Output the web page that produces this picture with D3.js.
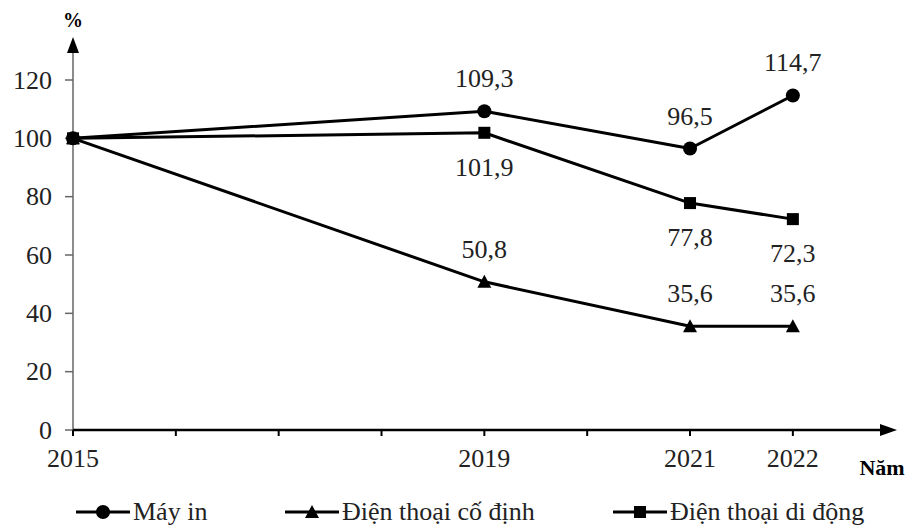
<!DOCTYPE html>
<html>
<head>
<meta charset="utf-8">
<script src="https://cdn.jsdelivr.net/npm/d3@7"></script>
</head>
<body style="margin:0">
<script>
// Data
const years = [2015, 2019, 2021, 2022];
const mayIn = [100, 109.3, 96.5, 114.7];
const coDinh = [100, 50.8, 35.6, 35.6];
const diDong = [100, 101.9, 77.8, 72.3];
const yTicks = [0, 20, 40, 60, 80, 100, 120];
const xTicks = [2015, 2016, 2017, 2018, 2019, 2020, 2021, 2022];
// label placement per point: -1 above, +1 below, 0 none
const mayInPos = [0, -1, -1, -1];
const coDinhPos = [0, -1, -1, -1];
const diDongPos = [0, 1, 1, 1];

const series = [
  { name: "Máy in", values: mayIn, pos: mayInPos, marker: "circle" },
  { name: "Điện thoại cố định", values: coDinh, pos: coDinhPos, marker: "triangle" },
  { name: "Điện thoại di động", values: diDong, pos: diDongPos, marker: "square" }
];

const FONT = "'Times New Roman'";
const FS = 26;
const svg = d3.select("body").append("svg").attr("width", 911).attr("height", 525);

function txt(sel) {
  return sel.append("text").attr("font-size", FS).style("font-family", FONT);
}

const x = d3.scaleLinear().domain([2015, 2023]).range([73, 895.7]);
const y = d3.scaleLinear().domain([0, 120]).range([430, 80]);

// Y axis
svg.append("line")
  .attr("x1", x(2015)).attr("x2", x(2015))
  .attr("y1", y(0)).attr("y2", 50)
  .attr("stroke", "#666").attr("stroke-width", 1.5);
svg.append("path")
  .attr("d", `M${x(2015) - 6},53 L${x(2015)},37 L${x(2015) + 6},53 Z`)
  .attr("fill", "#000");
txt(svg)
  .attr("x", x(2015)).attr("y", 27)
  .attr("text-anchor", "middle")
  .attr("font-weight", "bold")
  .attr("font-size", 20)
  .text("%");

yTicks.forEach(t => {
  svg.append("line")
    .attr("x1", x(2015) - 8).attr("x2", x(2015))
    .attr("y1", y(t)).attr("y2", y(t))
    .attr("stroke", "#666").attr("stroke-width", 1.5);
  txt(svg)
    .attr("x", 52).attr("y", y(t))
    .attr("dy", "0.33em")
    .attr("text-anchor", "end")
    .attr("fill", "#222")
    .text(t);
});

// X axis
svg.append("line")
  .attr("x1", x(2015)).attr("x2", 886)
  .attr("y1", y(0)).attr("y2", y(0))
  .attr("stroke", "#000").attr("stroke-width", 2.5);
svg.append("path")
  .attr("d", `M880,${y(0) - 6} L897,${y(0)} L880,${y(0) + 6} Z`)
  .attr("fill", "#000");
xTicks.forEach(t => {
  svg.append("line")
    .attr("x1", x(t)).attr("x2", x(t))
    .attr("y1", y(0)).attr("y2", y(0) + 6)
    .attr("stroke", "#000").attr("stroke-width", 2);
});
years.forEach(t => {
  txt(svg)
    .attr("x", x(t)).attr("y", y(0) + 37)
    .attr("text-anchor", "middle")
    .attr("fill", "#222")
    .text(t);
});
txt(svg)
  .attr("x", 882).attr("y", y(0) + 45)
  .attr("text-anchor", "middle")
  .attr("font-weight", "bold")
  .attr("font-size", 22)
  .text("Năm");

function drawMarker(g, type, cx, cy) {
  if (type === "circle") {
    g.append("circle").attr("cx", cx).attr("cy", cy).attr("r", 7).attr("fill", "#000");
  } else if (type === "square") {
    g.append("rect").attr("x", cx - 6).attr("y", cy - 6)
      .attr("width", 12).attr("height", 12).attr("fill", "#000");
  } else {
    g.append("path")
      .attr("d", `M${cx - 7},${cy + 6} L${cx},${cy - 7} L${cx + 7},${cy + 6} Z`)
      .attr("fill", "#000");
  }
}

const line = d3.line().x(d => x(d[0])).y(d => y(d[1]));

series.forEach(s => {
  const pts = years.map((yr, i) => [yr, s.values[i]]);
  svg.append("path")
    .datum(pts)
    .attr("d", line)
    .attr("fill", "none")
    .attr("stroke", "#000")
    .attr("stroke-width", 3)
    .attr("stroke-linejoin", "round");
  const g = svg.append("g");
  pts.forEach((p, i) => {
    drawMarker(g, s.marker, x(p[0]), y(p[1]));
    if (s.pos[i] !== 0) {
      txt(g)
        .attr("x", x(p[0]))
        .attr("y", y(p[1]) + (s.pos[i] < 0 ? -24 : 43))
        .attr("text-anchor", "middle")
        .attr("fill", "#222")
        .text(String(p[1]).replace(".", ","));
    }
  });
});

// Legend
const legendX = [76, 285, 613];
series.forEach((s, i) => {
  const g = svg.append("g");
  const lx = legendX[i], ly = 512;
  g.append("line")
    .attr("x1", lx).attr("x2", lx + 54)
    .attr("y1", ly).attr("y2", ly)
    .attr("stroke", "#000").attr("stroke-width", 3);
  drawMarker(g, s.marker, lx + 27, ly);
  txt(g)
    .attr("x", lx + 57).attr("y", ly)
    .attr("dy", "0.3em")
    .attr("fill", "#222")
    .text(s.name);
});
</script>
</body>
</html>
